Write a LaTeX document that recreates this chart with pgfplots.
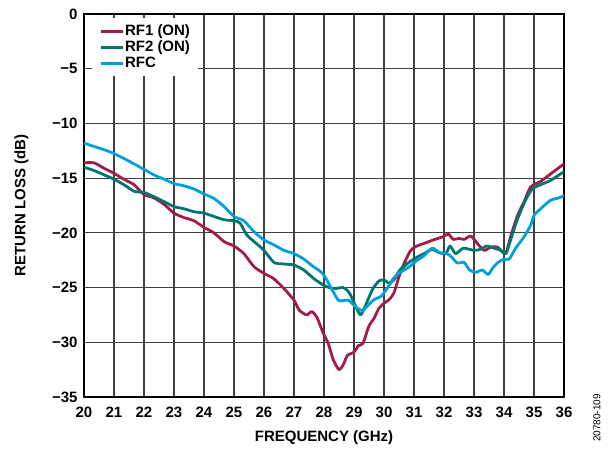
\documentclass[border=0pt]{standalone}
\usepackage{pgfplots}
\pgfplotsset{compat=1.18}
\usepackage{fontspec}
\setmainfont{Liberation Sans}
\definecolor{rfone}{RGB}{163,28,72}
\definecolor{rftwo}{RGB}{0,118,108}
\definecolor{rfc}{RGB}{0,160,220}
\newcommand{\labfont}{\bfseries\fontsize{15bp}{18bp}\selectfont}

\begin{document}
\begin{tikzpicture}
\useasboundingbox (-84bp,-52bp) rectangle (526bp,397bp);
\begin{axis}[
  at={(0,0)}, anchor=south west,
  scale only axis, width=480bp, height=383bp,
  xmin=20, xmax=36, ymin=-35, ymax=0,
  xtick={20,21,...,36},
  ytick={-35,-30,...,0},
  yticklabels={−35,−30,−25,−20,−15,−10,−5,0},
  grid=major,
  major grid style={line width=1.2bp, color=black!75},
  axis line style={line width=1.8bp},
  major tick length=0pt,
  ticklabel style={font=\labfont},
  xticklabel style={yshift=-7bp},
  yticklabel style={xshift=-3bp},
  /pgf/number format/assume math mode=true,
  xlabel={FREQUENCY (GHz)},
  ylabel={RETURN LOSS (dB)},
  label style={font=\labfont},
  xlabel style={at={(axis description cs:0.5,-0.107)}, anchor=center},
  ylabel style={at={(axis description cs:-0.1302,0.5)}, anchor=center},
  legend cell align=left,
  legend style={at={(axis description cs:0.0167,0.9896)}, anchor=north west,
    draw=none, fill=white, inner xsep=7bp, inner ysep=5bp, font=\labfont,
    nodes={inner sep=1bp, text height=11bp, text depth=3bp}},
  legend image code/.code={\draw[#1] (0bp,0bp) -- (22bp,0bp);},
  every axis plot/.append style={line width=2.8bp, line join=round, smooth, tension=0.4},
]
% RF1 (ON)
\addplot[color=rfone] table {
20.0 -13.6
20.33 -13.6
20.67 -14.1
21.0 -14.56
21.33 -15.1
21.67 -15.6
22.0 -16.5
22.33 -16.8
22.67 -17.4
23.0 -18.2
23.33 -18.6
23.67 -18.9
24.0 -19.5
24.33 -20.0
24.67 -20.8
25.0 -21.2
25.33 -21.9
25.67 -23.1
26.0 -23.7
26.33 -24.2
26.67 -25.1
27.0 -26.15
27.17 -27.05
27.42 -27.5
27.59 -27.2
27.76 -27.7
27.98 -29.2
28.14 -30.1
28.31 -31.6
28.5 -32.5
28.65 -32.0
28.78 -31.2
29.0 -30.9
29.15 -30.3
29.3 -30.1
29.5 -28.5
29.67 -27.8
29.83 -26.9
30.0 -26.45
30.17 -26.1
30.33 -25.5
30.5 -24.0
30.67 -22.8
30.89 -21.6
31.1 -21.2
31.4 -20.9
31.64 -20.65
31.97 -20.35
32.14 -20.1
32.31 -20.6
32.5 -20.5
32.67 -20.6
32.9 -20.3
33.15 -21.1
33.35 -21.6
33.56 -21.3
33.78 -21.3
34.05 -21.9
34.22 -20.35
34.44 -18.5
34.67 -17.15
34.89 -15.8
35.22 -15.3
35.56 -14.6
36.0 -13.7
};
\addlegendentry{RF1 (ON)}
% RF2 (ON)
\addplot[color=rftwo] table {
20.0 -14.0
20.33 -14.3
20.67 -14.7
21.0 -15.1
21.33 -15.6
21.67 -16.2
22.0 -16.3
22.33 -16.7
22.67 -17.15
23.0 -17.6
23.33 -17.8
23.67 -18.07
24.0 -18.2
24.33 -18.5
24.67 -18.8
25.0 -18.9
25.2 -19.1
25.43 -20.2
25.67 -20.8
26.0 -21.6
26.33 -22.7
26.67 -22.85
27.0 -22.94
27.33 -23.4
27.67 -24.2
28.0 -24.8
28.31 -25.1
28.64 -25.0
28.85 -25.5
29.06 -26.75
29.22 -27.5
29.39 -26.6
29.61 -25.2
29.83 -24.4
30.0 -24.3
30.17 -24.6
30.33 -24.3
30.53 -23.4
30.78 -22.8
31.05 -22.3
31.33 -21.9
31.61 -21.5
31.83 -21.8
32.06 -21.9
32.2 -21.2
32.39 -21.9
32.64 -21.4
33.0 -21.6
33.22 -21.5
33.42 -21.2
33.67 -21.4
33.89 -21.6
34.06 -21.9
34.22 -20.65
34.44 -18.8
34.72 -17.0
34.94 -16.0
35.22 -15.6
35.56 -15.2
36.0 -14.4
};
\addlegendentry{RF2 (ON)}
% RFC
\addplot[color=rfc] table {
20.0 -11.8
20.33 -12.1
20.67 -12.4
21.0 -12.75
21.33 -13.2
21.67 -13.7
22.0 -14.2
22.33 -14.7
22.67 -15.1
23.0 -15.5
23.33 -15.7
23.67 -16.0
24.0 -16.45
24.33 -16.85
24.67 -17.6
25.0 -18.5
25.33 -18.9
25.67 -19.9
26.0 -20.65
26.33 -21.1
26.67 -21.6
27.0 -21.9
27.33 -22.4
27.6 -23.0
27.87 -23.5
28.03 -24.0
28.31 -25.4
28.5 -26.2
28.81 -26.15
29.03 -26.7
29.26 -27.1
29.42 -26.75
29.67 -26.1
29.9 -25.8
30.1 -25.1
30.28 -24.3
30.44 -23.8
30.67 -23.4
30.89 -23.0
31.11 -22.5
31.33 -22.1
31.61 -21.4
31.85 -21.8
32.1 -21.9
32.25 -22.2
32.44 -22.75
32.67 -22.7
32.85 -23.4
33.06 -23.6
33.28 -23.4
33.47 -23.8
33.63 -23.2
33.8 -22.7
34.0 -22.4
34.17 -22.4
34.39 -21.4
34.67 -20.35
34.89 -19.3
35.0 -18.4
35.22 -17.8
35.56 -17.0
35.78 -16.85
36.0 -16.6
};
\addlegendentry{RFC}
\end{axis}
\node[rotate=90, font=\fontsize{10bp}{12bp}\selectfont] at (513bp,-21bp) {20780-109};
\end{tikzpicture}
\end{document}
